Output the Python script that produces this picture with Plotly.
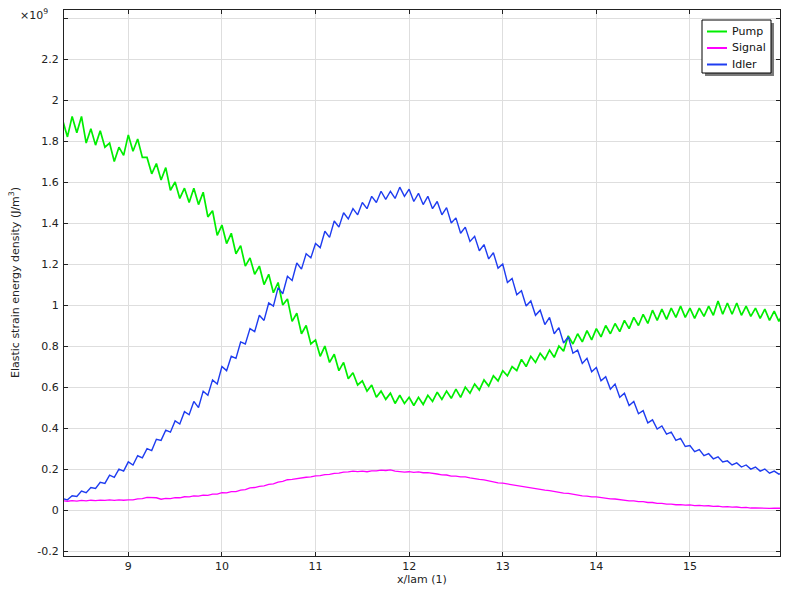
import plotly.graph_objects as go

# Sampling grid along x/lam: crests and troughs of the fast ripple alternate
X_START = 8.30
X_STEP = 0.05

# Energy density in units of 1e9 J/m^3
pump = [1.90, 1.82, 1.92, 1.84, 1.92, 1.79, 1.86, 1.78, 1.85, 1.77,
        1.79, 1.70, 1.77, 1.73, 1.83, 1.75, 1.81, 1.72, 1.72, 1.64,
        1.69, 1.61, 1.67, 1.56, 1.60, 1.52, 1.57, 1.50, 1.57, 1.49,
        1.55, 1.43, 1.46, 1.34, 1.39, 1.30, 1.35, 1.25, 1.29, 1.19,
        1.23, 1.15, 1.19, 1.10, 1.15, 1.06, 1.11, 1.00, 1.03, 0.92,
        0.96, 0.86, 0.90, 0.81, 0.83, 0.75, 0.80, 0.72, 0.76, 0.68,
        0.72, 0.64, 0.67, 0.61, 0.63, 0.58, 0.61, 0.55, 0.58, 0.54,
        0.57, 0.52, 0.56, 0.52, 0.55, 0.51, 0.55, 0.515, 0.56, 0.53,
        0.575, 0.54, 0.58, 0.545, 0.59, 0.55, 0.60, 0.57, 0.615, 0.585,
        0.635, 0.605, 0.655, 0.63, 0.68, 0.655, 0.70, 0.68, 0.735, 0.70,
        0.75, 0.72, 0.765, 0.735, 0.78, 0.745, 0.80, 0.775, 0.85, 0.81,
        0.86, 0.82, 0.875, 0.83, 0.885, 0.845, 0.90, 0.86, 0.91, 0.87,
        0.925, 0.885, 0.94, 0.90, 0.955, 0.91, 0.975, 0.925, 0.98, 0.93,
        0.985, 0.94, 0.995, 0.94, 0.985, 0.935, 0.985, 0.945, 0.995, 0.95,
        1.02, 0.955, 1.01, 0.955, 1.01, 0.95, 0.995, 0.945, 0.985, 0.935,
        0.98, 0.925, 0.97, 0.92, 0.965]

signal = [0.045, 0.043, 0.046, 0.044, 0.047, 0.045, 0.048, 0.046, 0.049, 0.047,
          0.05, 0.047, 0.05, 0.048, 0.05, 0.05, 0.055, 0.056, 0.062, 0.062,
          0.06, 0.053, 0.057, 0.056, 0.061, 0.06, 0.065, 0.064, 0.069, 0.068,
          0.073, 0.072, 0.078, 0.078, 0.085, 0.084, 0.09, 0.09, 0.097, 0.1,
          0.108, 0.11, 0.116, 0.118, 0.125, 0.128, 0.136, 0.14, 0.148, 0.15,
          0.154, 0.155, 0.16, 0.162, 0.167, 0.168, 0.173, 0.174, 0.179, 0.18,
          0.185, 0.186, 0.19, 0.188, 0.19, 0.187, 0.191, 0.191, 0.195, 0.193,
          0.196, 0.19, 0.188, 0.185, 0.187, 0.184, 0.186, 0.182, 0.183, 0.178,
          0.176, 0.172, 0.171, 0.166, 0.166, 0.162, 0.162, 0.157, 0.155, 0.15,
          0.147, 0.142, 0.138, 0.133, 0.131, 0.127, 0.125, 0.12, 0.117, 0.112,
          0.109, 0.104, 0.102, 0.097, 0.095, 0.09, 0.088, 0.083, 0.081, 0.076,
          0.074, 0.069, 0.068, 0.064, 0.064, 0.06, 0.059, 0.055, 0.054, 0.05,
          0.049, 0.045, 0.045, 0.041, 0.041, 0.037, 0.037, 0.033, 0.033, 0.029,
          0.029, 0.026, 0.027, 0.024, 0.025, 0.022, 0.023, 0.02, 0.021, 0.018,
          0.019, 0.016, 0.017, 0.014, 0.015, 0.012, 0.013, 0.01, 0.011, 0.009,
          0.01, 0.008, 0.009, 0.008, 0.009]

idler = [0.055, 0.05, 0.07, 0.066, 0.093, 0.085, 0.11, 0.105, 0.135, 0.13,
         0.17, 0.16, 0.20, 0.19, 0.235, 0.22, 0.265, 0.255, 0.30, 0.29,
         0.345, 0.34, 0.39, 0.38, 0.435, 0.42, 0.48, 0.465, 0.53, 0.50,
         0.58, 0.56, 0.635, 0.615, 0.70, 0.68, 0.75, 0.74, 0.82, 0.81,
         0.885, 0.87, 0.95, 0.925, 1.01, 0.995, 1.085, 1.055, 1.14, 1.12,
         1.205, 1.175, 1.25, 1.23, 1.30, 1.28, 1.36, 1.33, 1.41, 1.38,
         1.45, 1.42, 1.47, 1.44, 1.50, 1.47, 1.53, 1.50, 1.555, 1.515,
         1.555, 1.52, 1.575, 1.53, 1.565, 1.505, 1.545, 1.49, 1.53, 1.47,
         1.505, 1.44, 1.475, 1.40, 1.425, 1.35, 1.38, 1.31, 1.335, 1.265,
         1.295, 1.225, 1.255, 1.18, 1.20, 1.11, 1.13, 1.05, 1.07, 0.995,
         1.02, 0.95, 0.975, 0.905, 0.94, 0.86, 0.89, 0.815, 0.845, 0.765,
         0.78, 0.715, 0.74, 0.675, 0.695, 0.63, 0.65, 0.59, 0.615, 0.55,
         0.57, 0.51, 0.53, 0.47, 0.485, 0.425, 0.44, 0.395, 0.41, 0.37,
         0.38, 0.34, 0.35, 0.31, 0.315, 0.285, 0.295, 0.265, 0.275, 0.25,
         0.26, 0.235, 0.24, 0.22, 0.23, 0.21, 0.22, 0.20, 0.21, 0.19,
         0.20, 0.18, 0.19, 0.175, 0.185]

x_ticks = [9, 10, 11, 12, 13, 14, 15]
y_ticks = [-0.2, 0, 0.2, 0.4, 0.6, 0.8, 1, 1.2, 1.4, 1.6, 1.8, 2, 2.2]
y_ticktext = ["-0.2", "0", "0.2", "0.4", "0.6", "0.8", "1", "1.2", "1.4",
              "1.6", "1.8", "2", "2.2"]
y_extra_grid = [2.4]

series = [("Pump", pump, "#00ee00", 1.7),
          ("Signal", signal, "#ff00ff", 1.3),
          ("Idler", idler, "#1e3cf0", 1.4)]

FONT = "DejaVu Sans"
W, H = 785, 592
ML, MR, MT, MB = 64, 5, 10, 36
PW, PH = W - ML - MR, H - MT - MB


def px(xp):
    """Page pixel column -> paper fraction."""
    return (xp - ML) / PW


def py(yp):
    """Page pixel row -> paper fraction."""
    return (H - MB - yp) / PH


fig = go.Figure()
for name, vals, color, width in series:
    xs = [round(X_START + X_STEP * i, 4) for i in range(len(vals))]
    fig.add_trace(go.Scatter(x=xs, y=vals, mode="lines", name=name,
                             showlegend=False,
                             line=dict(color=color, width=width)))

axis_common = dict(showline=True, linecolor="#222", linewidth=1, mirror="ticks",
                   ticks="inside", ticklen=4, tickcolor="#222",
                   showgrid=True, gridcolor="#dedede", gridwidth=1,
                   zeroline=False, tickfont=dict(family=FONT, size=11, color="#222"))

fig.update_xaxes(range=[8.313, 15.962], tickvals=x_ticks, **axis_common)
fig.update_yaxes(range=[-0.224, 2.439], tickvals=y_ticks, ticktext=y_ticktext,
                 ticklabelstandoff=2,
                 minor=dict(tickvals=y_extra_grid, ticks="inside", ticklen=4,
                            tickcolor="#222", showgrid=True,
                            gridcolor="#dedede", gridwidth=1),
                 **axis_common)

# Legend box with drop shadow, line samples and labels
shapes = [
    dict(type="rect", xref="paper", yref="paper",
         x0=px(705), x1=px(774), y0=py(23), y1=py(76),
         fillcolor="#7a7a7a", line=dict(width=0), layer="above"),
    dict(type="rect", xref="paper", yref="paper",
         x0=px(702), x1=px(771), y0=py(20), y1=py(73),
         fillcolor="white", line=dict(color="#000", width=1), layer="above"),
]
annotations = []
for (name, _, color, _w), row in zip(series, [31.5, 48, 64.5]):
    shapes.append(dict(type="line", xref="paper", yref="paper",
                       x0=px(707), x1=px(727), y0=py(row), y1=py(row),
                       line=dict(color=color, width=2), layer="above"))
    annotations.append(dict(text=name, xref="paper", yref="paper",
                            x=px(730), y=py(row), xanchor="left", yanchor="middle",
                            showarrow=False,
                            font=dict(family=FONT, size=11, color="#111")))

annotations += [
    dict(text="x/lam (1)", xref="paper", yref="paper", x=0.5, y=py(571),
         xanchor="center", yanchor="top", showarrow=False,
         font=dict(family=FONT, size=11)),
    dict(text="Elastic strain energy density (J/m<sup>3</sup>)",
         xref="paper", yref="paper", x=px(14), y=0.5, textangle=-90,
         xanchor="center", yanchor="middle", showarrow=False,
         font=dict(family=FONT, size=11)),
    dict(text="×10<sup>9</sup>", xref="paper", yref="paper", x=px(18), y=py(15),
         xanchor="left", yanchor="middle", showarrow=False,
         font=dict(family=FONT, size=11)),
]

fig.update_layout(
    width=W, height=H,
    margin=dict(l=ML, r=MR, t=MT, b=MB),
    paper_bgcolor="white", plot_bgcolor="white",
    font=dict(family=FONT, size=11, color="#222"),
    showlegend=False,
    shapes=shapes,
    annotations=annotations,
)

fig.write_html("out.html")
